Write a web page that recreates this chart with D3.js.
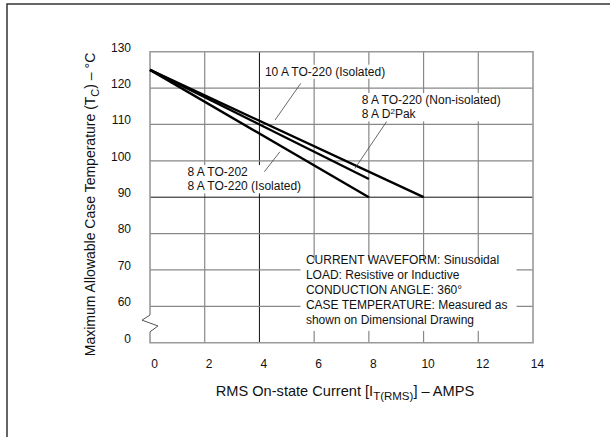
<!DOCTYPE html>
<html>
<head>
<meta charset="utf-8">
<script src="https://cdn.jsdelivr.net/npm/d3@7"></script>
<style>
  body { margin: 0; background: #fff; }
  text { font-family: "Liberation Sans", Arial, sans-serif; fill: #111; }
</style>
</head>
<body>
<div id="chart"></div>
<script>
// datos
const xTicks = [0, 2, 4, 6, 8, 10, 12, 14];
const yTicks = [50, 60, 70, 80, 90, 100, 110, 120, 130];
const yTickLabels = ["0", "60", "70", "80", "90", "100", "110", "120", "130"];

const current10A = [0, 10];
const temp10A = [125, 90];
const current8ANonIso = [0, 8];
const temp8ANonIso = [125, 95];
const current8AIso = [0, 8];
const temp8AIso = [125, 90];

const notes = [
  "CURRENT WAVEFORM: Sinusoidal",
  "LOAD: Resistive or Inductive",
  "CONDUCTION ANGLE: 360°",
  "CASE TEMPERATURE: Measured as",
  "shown on Dimensional Drawing"
];

function drawChart() {
  const width = 610;
  const height = 437;
  const margin = {top: 51.7, right: 77, bottom: 94.3, left: 150};
  const plotW = width - margin.left - margin.right;
  const plotH = height - margin.top - margin.bottom;

  d3.select("#chart").selectAll("*").remove();

  const svg = d3.select("#chart").append("svg")
    .attr("width", width)
    .attr("height", height);

  // marco exterior
  svg.append("path")
    .attr("d", `M7,${height} L7,4 L${width},4`)
    .attr("fill", "none")
    .attr("stroke", "#333")
    .attr("stroke-width", 1.5);

  const g = svg.append("g")
    .attr("transform", `translate(${margin.left},${margin.top})`);

  const x = d3.scaleLinear().domain([0, 14]).range([0, plotW]);
  const y = d3.scaleLinear().domain([50, 130]).range([plotH, 0]);

  // rejilla
  g.selectAll(".vgrid")
    .data(xTicks.slice(1, -1))
    .join("line")
    .attr("x1", d => x(d)).attr("x2", d => x(d))
    .attr("y1", 0).attr("y2", plotH)
    .attr("stroke", d => d === 4 ? "#111" : "#888")
    .attr("stroke-width", d => d === 4 ? 1 : 1.2);

  g.selectAll(".hgrid")
    .data(yTicks.slice(1, -1))
    .join("line")
    .attr("x1", 0).attr("x2", plotW)
    .attr("y1", d => y(d)).attr("y2", d => y(d))
    .attr("stroke", d => d === 90 ? "#111" : "#888")
    .attr("stroke-width", d => d === 90 ? 1 : 1.2);

  // caja de notas (tapa la rejilla)
  g.append("rect")
    .attr("x", x(5.5)).attr("y", y(72.6))
    .attr("width", x(13.4) - x(5.5))
    .attr("height", y(49.8) - y(72.6) - 12.5)
    .attr("fill", "#fff");

  // borde del área, con corte en el eje Y
  const brk = [57.6, 56.2, 54.6, 53.0];
  g.append("path")
    .attr("d", `M0,${y(brk[0])} L0,0 L${plotW},0 L${plotW},${plotH} L0,${plotH} L0,${y(brk[3])}`)
    .attr("fill", "none")
    .attr("stroke", "#999")
    .attr("stroke-width", 1.6);
  g.append("path")
    .attr("d", `M0,${y(brk[0])} L-8,${y(brk[1])} L8,${y(brk[2])} L0,${y(brk[3])}`)
    .attr("fill", "none")
    .attr("stroke", "#555")
    .attr("stroke-width", 1);

  // ejes (solo etiquetas)
  const xAxis = g.append("g")
    .attr("transform", `translate(0,${plotH})`)
    .call(d3.axisBottom(x).tickValues(xTicks).tickSize(0).tickPadding(17));
  xAxis.select(".domain").remove();
  xAxis.selectAll("text")
    .attr("dx", 4)
    .style("font-size", "12px")
    .style("font-family", "Liberation Sans, Arial, sans-serif")
    .attr("fill", "#111");

  const yAxis = g.append("g")
    .call(d3.axisLeft(y).tickValues(yTicks)
      .tickFormat((d, i) => yTickLabels[i]).tickSize(0).tickPadding(19));
  yAxis.select(".domain").remove();
  yAxis.selectAll("text")
    .attr("dy", "-0.05em")
    .style("font-size", "12px")
    .style("font-family", "Liberation Sans, Arial, sans-serif")
    .attr("fill", "#111");

  // etiquetas con fondo blanco
  const labels = [
    {x: 4.2, y: 123.4, lines: ["10 A TO-220 (Isolated)"]},
    {x: 7.74, y: 115.6, lines: ["8 A TO-220 (Non-isolated)", "8 A D<sup>2</sup>Pak"]},
    {x: 1.37, y: 95.8, lines: ["8 A TO-202", "8 A TO-220 (Isolated)"]}
  ];
  labels.forEach(lab => {
    const lg = g.append("g");
    const t = lg.append("text")
      .attr("x", x(lab.x))
      .attr("y", y(lab.y))
      .style("font-size", "12px");
    lab.lines.forEach((txt, i) => {
      const dy = i === 0 ? 0 : 14.3;
      if (txt.includes("<sup>")) {
        const parts = txt.split(/<sup>|<\/sup>/);
        t.append("tspan").attr("x", x(lab.x)).attr("dy", dy).text(parts[0]);
        t.append("tspan").attr("dy", -4.5).style("font-size", "8px").text(parts[1]);
        t.append("tspan").attr("dy", 4.5).text(parts[2]);
      } else {
        t.append("tspan").attr("x", x(lab.x)).attr("dy", dy).text(txt);
      }
    });
    const bb = t.node().getBBox();
    lg.insert("rect", "text")
      .attr("x", bb.x - 1).attr("y", bb.y)
      .attr("width", bb.width + 2).attr("height", bb.height)
      .attr("fill", "#fff");
  });

  // curvas
  const series = [
    {xs: current10A, ys: temp10A},
    {xs: current8ANonIso, ys: temp8ANonIso},
    {xs: current8AIso, ys: temp8AIso}
  ];
  const line = d3.line().x(d => x(d[0])).y(d => y(d[1]));
  g.selectAll(".curve")
    .data(series)
    .join("path")
    .attr("d", s => line(s.xs.map((v, i) => [v, s.ys[i]])))
    .attr("fill", "none")
    .attr("stroke", "#000")
    .attr("stroke-width", 2.4);

  // líneas guía de las etiquetas
  const leaders = [
    [[5.51, 121.3], [4.57, 111.2]],
    [[8.65, 110.8], [7.49, 97.9]],
    [[4.75, 102.5], [4.18, 97.0]]
  ];
  g.selectAll(".leader")
    .data(leaders)
    .join("line")
    .attr("x1", d => x(d[0][0])).attr("y1", d => y(d[0][1]))
    .attr("x2", d => x(d[1][0])).attr("y2", d => y(d[1][1]))
    .attr("stroke", "#444")
    .attr("stroke-width", 0.8);

  // notas
  const nt = g.append("text")
    .attr("x", x(5.7))
    .attr("y", 264.5 - margin.top)
    .style("font-size", "12px");
  notes.forEach((n, i) => {
    nt.append("tspan").attr("x", x(5.7)).attr("dy", i === 0 ? 0 : 14.8).text(n);
  });

  // títulos de ejes
  const xt = svg.append("text")
    .attr("x", 345)
    .attr("y", 396)
    .attr("text-anchor", "middle")
    .style("font-size", "14.6px");
  xt.append("tspan").text("RMS On-state Current [I");
  xt.append("tspan").attr("dy", 4).style("font-size", "11.5px").text("T(RMS)");
  xt.append("tspan").attr("dy", -4).text("] – AMPS");

  const yt = svg.append("text")
    .attr("transform", `translate(95,204.5) rotate(-90)`)
    .attr("text-anchor", "middle")
    .style("font-size", "14px");
  yt.append("tspan").text("Maximum Allowable Case Temperature (T");
  yt.append("tspan").attr("dy", 4).style("font-size", "11px").text("C");
  yt.append("tspan").attr("dy", -4).text(") – °C");
}

drawChart();
</script>
</body>
</html>
